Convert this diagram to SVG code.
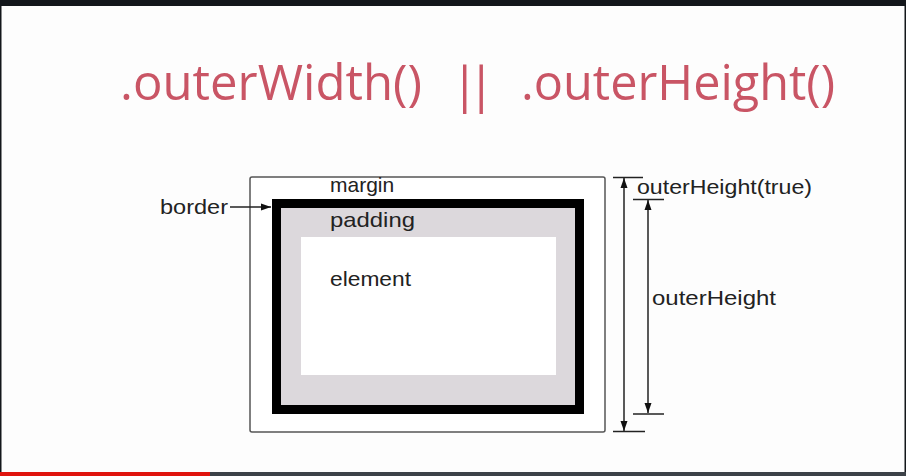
<svg xmlns="http://www.w3.org/2000/svg" width="906" height="476" viewBox="0 0 906 476">
  <defs>
    <marker id="arrow" viewBox="0 0 10 10" refX="10" refY="5" markerWidth="10" markerHeight="10" markerUnits="userSpaceOnUse" orient="auto">
      <path d="M0,1.5 L10,5 L0,8.5 Z" fill="#111"/>
    </marker>
    <style>
      .title { font-family: "Open Sans", "Noto Sans", sans-serif; font-size: 50px; fill: #c95565; }
      .label { font-family: "Liberation Sans", Arial, sans-serif; font-size: 21px; fill: #222; }
      .dim { stroke: #222; stroke-width: 1.5; fill: none; }
    </style>
  </defs>

  <!-- frame -->
  <rect x="0" y="0" width="906" height="476" fill="#fdfdfd"/>
  <rect x="0" y="0" width="906" height="6" fill="#13171b"/>
  <rect x="0" y="6" width="1.5" height="467" fill="#13171b"/>
  <rect x="904.5" y="6" width="1.5" height="467" fill="#13171b"/>
  <rect x="0" y="472" width="906" height="4" fill="#3c4248"/>
  <rect x="0" y="472" width="210" height="4" fill="#e0140e"/>

  <!-- heading -->
  <g id="title">
    <text class="title" x="120" y="100" textLength="302" lengthAdjust="spacingAndGlyphs">.outerWidth()</text>
    <text class="title" x="451" y="102" letter-spacing="-11">||</text>
    <text class="title" x="521" y="100" textLength="314" lengthAdjust="spacingAndGlyphs">.outerHeight()</text>
  </g>

  <!-- box model -->
  <g id="margin">
    <rect x="250" y="177" width="355" height="255" rx="2" fill="#fff" stroke="#555" stroke-width="1.5"/>
    <text class="label" x="330" y="192">margin</text>
  </g>
  <g id="border">
    <rect x="276.5" y="203.5" width="303" height="206" fill="#dcd8dc" stroke="#000" stroke-width="9"/>
  </g>
  <g id="padding">
    <text class="label" x="330" y="227" textLength="85" lengthAdjust="spacingAndGlyphs">padding</text>
  </g>
  <g id="element">
    <rect x="301" y="237" width="255" height="138" fill="#fff"/>
    <text class="label" x="330" y="286" textLength="81" lengthAdjust="spacingAndGlyphs">element</text>
  </g>
  <g id="border-label">
    <text class="label" x="160" y="214" textLength="68" lengthAdjust="spacingAndGlyphs">border</text>
  </g>

  <!-- dimension lines -->
  <g id="outer-height-true">
    <line class="dim" x1="613" y1="177.5" x2="643" y2="177.5"/>
    <line class="dim" x1="613" y1="431.5" x2="645" y2="431.5"/>
    <text class="label" x="637" y="194" textLength="175" lengthAdjust="spacingAndGlyphs">outerHeight(true)</text>
  </g>
  <g id="outer-height">
    <line class="dim" x1="633" y1="199.5" x2="664" y2="199.5"/>
    <line class="dim" x1="633" y1="414" x2="664" y2="414"/>
    <text class="label" x="652" y="305" textLength="124" lengthAdjust="spacingAndGlyphs">outerHeight</text>
  </g>

  <g id="connectors">
    <line class="dim" x1="230" y1="207" x2="271" y2="207" marker-end="url(#arrow)"/>
    <line class="dim" x1="624" y1="304" x2="624" y2="178" marker-end="url(#arrow)"/>
    <line class="dim" x1="624" y1="304" x2="624" y2="431" marker-end="url(#arrow)"/>
    <line class="dim" x1="648" y1="304" x2="648" y2="200" marker-end="url(#arrow)"/>
    <line class="dim" x1="648" y1="304" x2="648" y2="413" marker-end="url(#arrow)"/>
  </g>
</svg>
